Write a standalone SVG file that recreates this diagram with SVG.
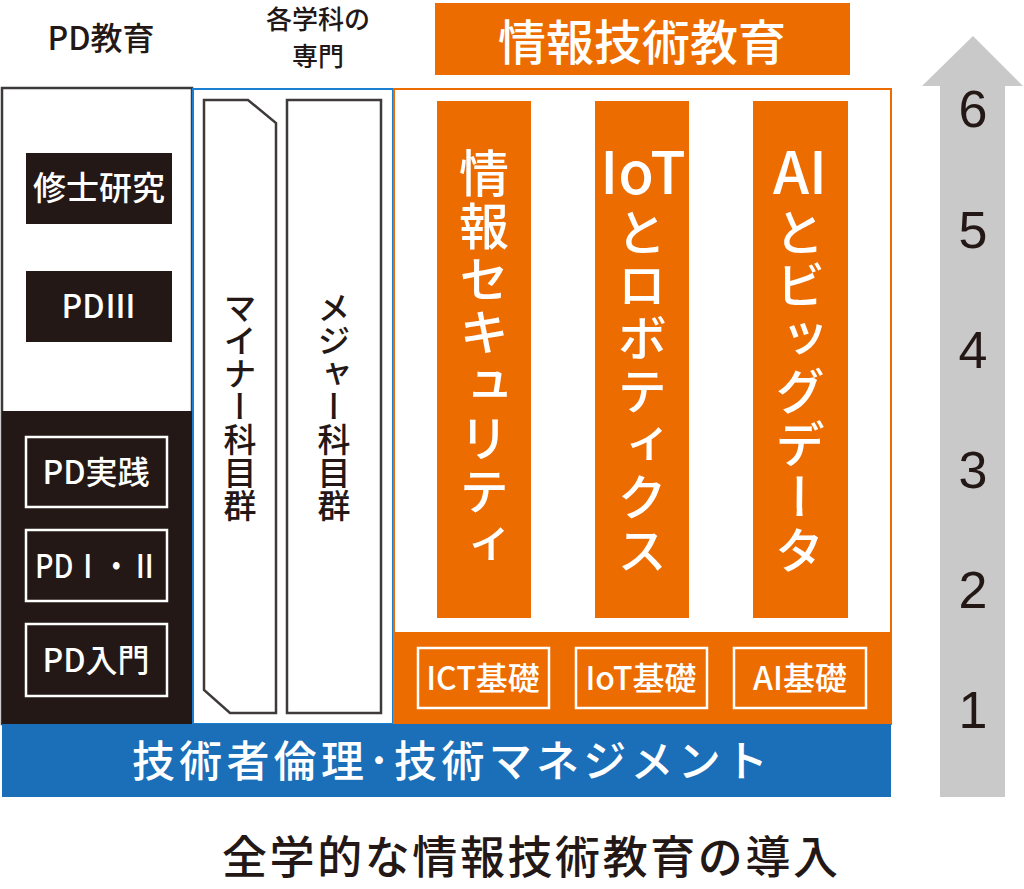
<svg xmlns="http://www.w3.org/2000/svg" width="1024" height="889" viewBox="0 0 1024 889">
<style>
.jp{font-family:"Noto Sans CJK JP","Noto Sans",sans-serif;font-weight:500;}
.w{fill:#fff;}
.k{fill:#231815;}
.vt{writing-mode:vertical-rl;text-orientation:upright;}
.or{fill:#ec6c00;}
.box{fill:none;stroke:#fff;stroke-width:2.5;}
.blk{fill:#231815;}
</style>
<rect width="1024" height="889" fill="#fff"/>
<g id="headers">
<text class="jp k" x="101" y="50" font-size="32" text-anchor="middle">PD教育</text>
<text class="jp k" x="318" y="29" font-size="26" text-anchor="middle">各学科の</text>
<text class="jp k" x="318" y="66" font-size="26" text-anchor="middle">専門</text>
</g>
<g id="it-title">
<rect x="435" y="3" width="415" height="72" class="or"/>
<text class="jp w" x="642" y="60" font-size="48" text-anchor="middle">情報技術教育</text>
</g>
<g id="pd-column">
<rect x="2" y="88" width="190" height="636" fill="#fff" stroke="#3e3a39" stroke-width="2.5"/>
<rect x="2" y="411" width="190" height="313" class="blk"/>
<g id="shushi">
<rect x="26" y="153" width="146" height="71" class="blk"/>
<text class="jp w" x="99" y="200" font-size="33" text-anchor="middle">修士研究</text>
</g>
<g id="pd3">
<rect x="26" y="271" width="146" height="71" class="blk"/>
<text class="jp w" x="99" y="318" font-size="32" text-anchor="middle">PDⅢ</text>
</g>
<g id="pd-jissen">
<rect x="26" y="437" width="141" height="70" class="box"/>
<text class="jp w" x="96" y="484" font-size="32" text-anchor="middle">PD実践</text>
</g>
<g id="pd12">
<rect x="26" y="530" width="141" height="71" class="box"/>
<text class="jp w" x="97" y="578" font-size="32" text-anchor="middle" textLength="124" lengthAdjust="spacingAndGlyphs">PDⅠ・Ⅱ</text>
</g>
<g id="pd-nyumon">
<rect x="26" y="624" width="141" height="72" class="box"/>
<text class="jp w" x="96" y="672" font-size="32" text-anchor="middle">PD入門</text>
</g>
</g>
<g id="senmon-column">
<rect x="193" y="89" width="200" height="635" fill="#fff" stroke="#1a7fd0" stroke-width="2"/>
<g id="minor">
<path d="M204,100 H248 L276,123 V713 H230 L204,690 Z" fill="#fff" stroke="#3e3a39" stroke-width="2.5"/>
<text class="jp k vt" x="240" y="406" font-size="33" text-anchor="middle">マイナー科目群</text>
</g>
<g id="major">
<rect x="287" y="100" width="94" height="613" fill="#fff" stroke="#3e3a39" stroke-width="2.5"/>
<text class="jp k vt" x="334" y="406" font-size="33" text-anchor="middle">メジャー科目群</text>
</g>
</g>
<g id="it-column">
<rect x="394" y="89" width="497" height="635" fill="#fff" stroke="#ec6c00" stroke-width="2"/>
<rect x="394" y="632" width="497" height="92" class="or"/>
<g id="security">
<rect x="437" y="101" width="94" height="517" class="or"/>
<text class="jp w vt" x="484" y="360" font-size="50" letter-spacing="3" text-anchor="middle">情報セキュリティ</text>
</g>
<g id="iot">
<rect x="595" y="101" width="94" height="517" class="or"/>
<text class="jp w" x="643" y="194" font-size="58" text-anchor="middle">IoT</text>
<text class="jp w vt" x="642" y="392" font-size="50" letter-spacing="3" text-anchor="middle">とロボティクス</text>
</g>
<g id="ai">
<rect x="753" y="101" width="95" height="517" class="or"/>
<text class="jp w" x="800" y="194" font-size="58" text-anchor="middle">AI</text>
<text class="jp w vt" x="800" y="392" font-size="50" letter-spacing="3" text-anchor="middle">とビッグデータ</text>
</g>
<g id="ict-kiso">
<rect x="418" y="648" width="131" height="60" class="box"/>
<text class="jp w" x="483" y="690" font-size="32" text-anchor="middle">ICT基礎</text>
</g>
<g id="iot-kiso">
<rect x="576" y="648" width="131" height="60" class="box"/>
<text class="jp w" x="641" y="690" font-size="32" text-anchor="middle">IoT基礎</text>
</g>
<g id="ai-kiso">
<rect x="734" y="648" width="132" height="60" class="box"/>
<text class="jp w" x="800" y="690" font-size="32" text-anchor="middle">AI基礎</text>
</g>
</g>
<g id="ethics">
<rect x="2" y="724" width="889" height="73" fill="#1a6fb8"/>
<text class="jp w" x="450" y="777" font-size="43" text-anchor="middle" textLength="636" lengthAdjust="spacing">技術者倫理･技術マネジメント</text>
</g>
<g id="level-arrow">
<path d="M940,797 V86 H922 L973,36 L1023,86 H1005 V797 Z" fill="#c9c9c9"/>
<g class="k" font-family="Liberation Sans, Arial, sans-serif" font-size="52" text-anchor="middle">
<text x="973" y="127">6</text>
<text x="973" y="248">5</text>
<text x="973" y="368">4</text>
<text x="973" y="488">3</text>
<text x="973" y="608">2</text>
<text x="973" y="728">1</text>
</g>
</g>
<g id="caption">
<text class="jp k" x="530" y="874" font-size="45" text-anchor="middle" textLength="616" lengthAdjust="spacing">全学的な情報技術教育の導入</text>
</g>
<g id="connectors"/>
</svg>
